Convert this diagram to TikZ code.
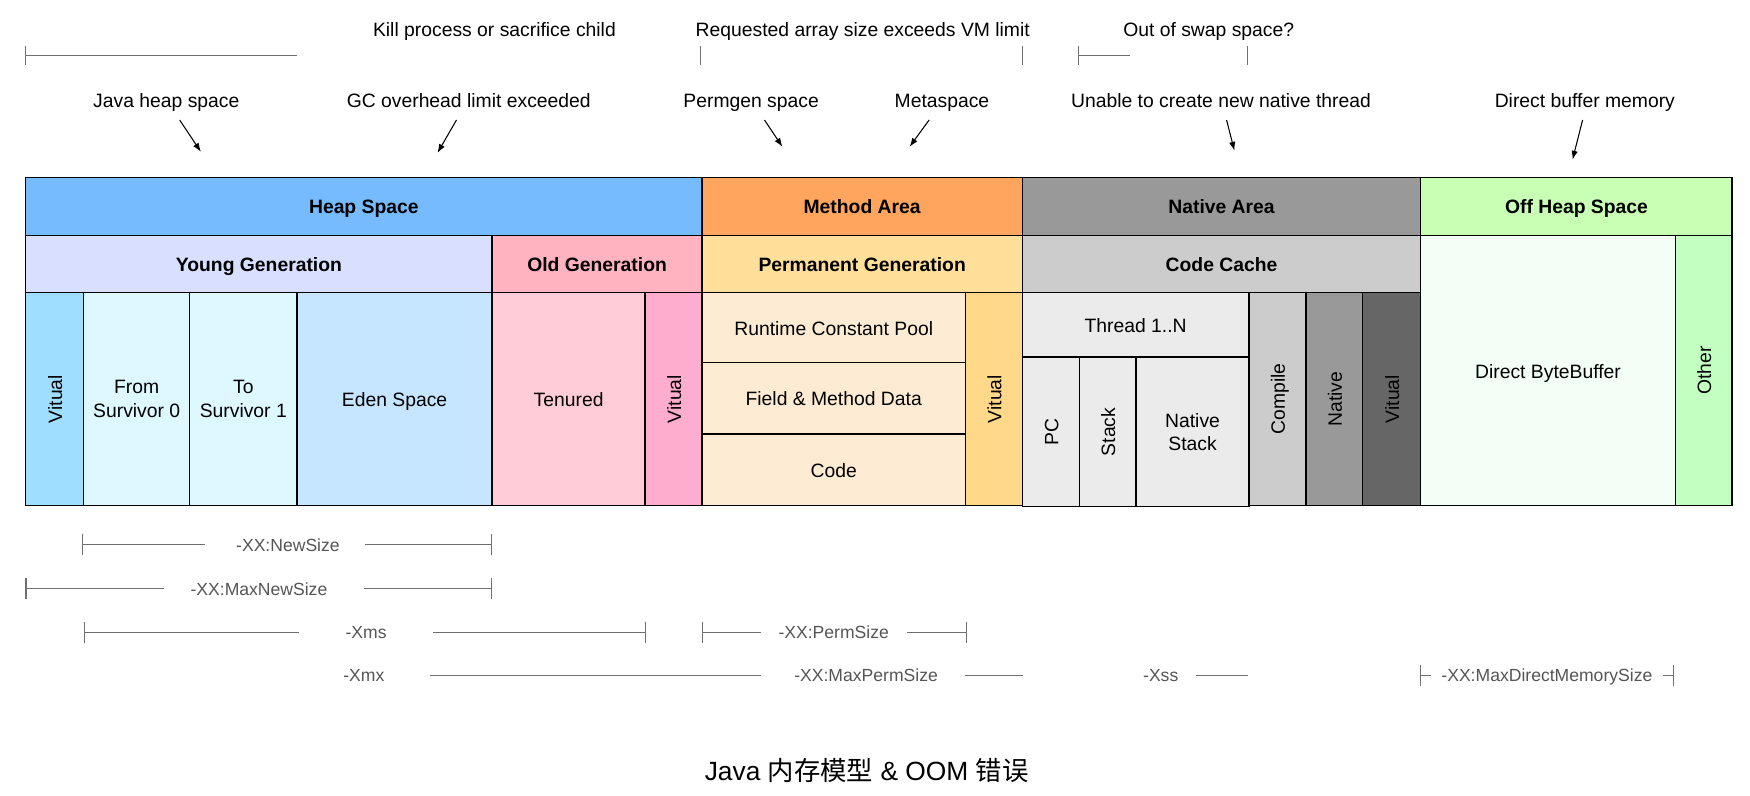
\documentclass[tikz,border=0pt]{standalone}
\usepackage{fontspec}
\setmainfont{Liberation Sans}
\newfontfamily\cjkfont{Noto Sans CJK SC}
\usetikzlibrary{arrows.meta}
\definecolor{cHeap}{HTML}{77BBFF}
\definecolor{cMethod}{HTML}{FFA55E}
\definecolor{cNativeA}{HTML}{999999}
\definecolor{cOff}{HTML}{C8FFB4}
\definecolor{cYoung}{HTML}{D8DFFF}
\definecolor{cOld}{HTML}{FFB3C1}
\definecolor{cPerm}{HTML}{FFDF99}
\definecolor{cCache}{HTML}{CCCCCC}
\definecolor{cVitA}{HTML}{A0DEFF}
\definecolor{cSurv}{HTML}{DDF8FF}
\definecolor{cEden}{HTML}{C6E5FF}
\definecolor{cTen}{HTML}{FFCCD8}
\definecolor{cVitB}{HTML}{FFADCE}
\definecolor{cPool}{HTML}{FDEBD3}
\definecolor{cVitC}{HTML}{FFD88A}
\definecolor{cThr}{HTML}{EBEBEB}
\definecolor{cComp}{HTML}{CCCCCC}
\definecolor{cNat}{HTML}{999999}
\definecolor{cVitD}{HTML}{666666}
\definecolor{cDBB}{HTML}{F3FFF6}
\definecolor{cOther}{HTML}{C2FFC0}
\definecolor{dimgray}{HTML}{707070}
\definecolor{dimtext}{HTML}{555555}
\newcommand{\mcell}[8]{%
  \filldraw[cellbox, fill=#6] (#2,#3) rectangle (#4,#5);
  \node[#7] (#1) at ({(#2+#4)/2},{(#3+#5)/2}) {#8};}
\newcommand{\tkA}[2]{\draw[dimline] (#1,#2-8.5) -- (#1,#2+8.5);}
\newcommand{\tkB}[2]{\draw[dimline] (#1,#2-9.5) -- (#1,#2+9.5);}
\begin{document}
\begin{tikzpicture}[x=0.223214mm, y=-0.223214mm,
  cellbox/.style={draw=black, line width=0.8pt},
  lblm/.style={font=\fontsize{11}{13.3}\selectfont, align=center, inner sep=0pt, text=black},
  lbl/.style={lblm, text height=1.06em, text depth=0.21em},
  hdr/.style={lbl, font=\fontsize{11}{13.3}\selectfont\bfseries},
  vlbl/.style={lbl, rotate=90},
  dimlbl/.style={font=\fontsize{10}{12}\selectfont, text=dimtext, inner sep=0pt, text height=1.06em, text depth=0.21em},
  dimline/.style={draw=dimgray, line width=0.6pt},
  arr/.style={draw=black, line width=0.6pt, -{Latex[length=5pt,width=3.6pt]}}]
\useasboundingbox (0,0) rectangle (1568,712.32);

% ---- row 3 cells ----
\mcell{vitA}{23}{262}{75}{453}{cVitA}{vlbl}{Vitual}
\mcell{from}{75}{262}{170}{453}{cSurv}{lblm}{From\\Survivor 0}
\mcell{to}{170}{262}{266}{453}{cSurv}{lblm}{To\\Survivor 1}
\mcell{eden}{266}{262}{441}{453}{cEden}{lbl}{Eden Space}
\mcell{ten}{441}{262}{578}{453}{cTen}{lbl}{Tenured}
\mcell{vitB}{578}{262}{629}{453}{cVitB}{vlbl}{Vitual}
\mcell{pool}{629}{262}{865}{325}{cPool}{lbl}{Runtime Constant Pool}
\mcell{field}{629}{325}{865}{389}{cPool}{lbl}{Field \& Method Data}
\mcell{code}{629}{389}{865}{453}{cPool}{lbl}{Code}
\mcell{vitC}{865}{262}{916}{453}{cVitC}{vlbl}{Vitual}
\mcell{thread}{916}{262}{1119}{320}{cThr}{lbl}{Thread 1..N}
\mcell{pc}{916}{320}{967}{454}{cThr}{vlbl}{PC}
\mcell{stack}{967}{320}{1018}{454}{cThr}{vlbl}{Stack}
\mcell{nstack}{1018}{320}{1119}{454}{cThr}{lblm}{Native\\Stack}
\mcell{compile}{1119}{262}{1170}{453}{cComp}{vlbl}{Compile}
\mcell{native}{1170}{262}{1221}{453}{cNat}{vlbl}{Native}
\mcell{vitD}{1221}{262}{1273}{453}{cVitD}{vlbl}{Vitual}
\mcell{dbb}{1273}{211}{1501}{453}{cDBB}{lbl}{Direct ByteBuffer}
\mcell{other}{1501}{211}{1552}{453}{cOther}{vlbl}{Other}

% ---- row 2 ----
\mcell{young}{23}{211}{441}{262}{cYoung}{hdr}{Young Generation}
\mcell{old}{441}{211}{629}{262}{cOld}{hdr}{Old Generation}
\mcell{perm}{629}{211}{916}{262}{cPerm}{hdr}{Permanent Generation}
\mcell{cache}{916}{211}{1273}{262}{cCache}{hdr}{Code Cache}

% ---- row 1 ----
\mcell{heap}{23}{159}{629}{211}{cHeap}{hdr}{Heap Space}
\mcell{method}{629}{159}{916}{211}{cMethod}{hdr}{Method Area}
\mcell{narea}{916}{159}{1273}{211}{cNativeA}{hdr}{Native Area}
\mcell{offheap}{1273}{159}{1552}{211}{cOff}{hdr}{Off Heap Space}

% ---- top labels ----
\node[lbl] (kill) at (443,26) {Kill process or sacrifice child};
\node[lbl] (reqarr) at (773,26) {Requested array size exceeds VM limit};
\node[lbl] (swap) at (1083,26) {Out of swap space?};
\node[lbl] (jheap) at (149,90) {Java heap space};
\node[lbl] (gcover) at (420,90) {GC overhead limit exceeded};
\node[lbl] (permgen) at (673,90) {Permgen space};
\node[lbl] (meta) at (844,90) {Metaspace};
\node[lbl] (unable) at (1094,90) {Unable to create new native thread};
\node[lbl] (direct) at (1420,90) {Direct buffer memory};

% top marker lines
\tkA{23}{49.5}
\draw[dimline] (23,49.5) -- (266,49.5);
\tkA{628}{50}
\tkA{916}{50}
\tkA{966}{50}
\draw[dimline] (966,50) -- (1012.5,50);
\tkA{1117.5}{50}

% ---- arrows ----
\coordinate (a1s) at (161,107.5); \coordinate (a1e) at (180,136);
\coordinate (a2s) at (409,107.5); \coordinate (a2e) at (392,137);
\coordinate (a3s) at (685,107.5); \coordinate (a3e) at (701,131.5);
\coordinate (a4s) at (832.5,107.5); \coordinate (a4e) at (815,131.5);
\coordinate (a5s) at (1099,107.5); \coordinate (a5e) at (1106,135);
\coordinate (a6s) at (1418,107.5); \coordinate (a6e) at (1409,143);
\draw[arr] (a1s) -- (a1e);
\draw[arr] (a2s) -- (a2e);
\draw[arr] (a3s) -- (a3e);
\draw[arr] (a4s) -- (a4e);
\draw[arr] (a5s) -- (a5e);
\draw[arr] (a6s) -- (a6e);

% ---- dimension rows ----
% NewSize
\tkB{74}{488}
\draw[dimline] (74,488) -- (183.7,488);
\node[dimlbl] (newsize) at (258,487) {-XX:NewSize};
\draw[dimline] (327,488) -- (440,488);
\tkB{440}{488}
% MaxNewSize
\tkB{23.3}{527.5}
\draw[dimline] (23.3,527.5) -- (147,527.5);
\node[dimlbl] (maxnewsize) at (232,526.5) {-XX:MaxNewSize};
\draw[dimline] (326.4,527.5) -- (440,527.5);
\tkB{440}{527.5}
% Xms
\tkB{76}{566.5}
\draw[dimline] (76,566.5) -- (267.5,566.5);
\node[dimlbl] (xms) at (328,565.5) {-Xms};
\draw[dimline] (388,566.5) -- (578.5,566.5);
\tkB{578.5}{566.5}
% PermSize
\tkB{629.6}{566.5}
\draw[dimline] (629.6,566.5) -- (681.8,566.5);
\node[dimlbl] (permsize) at (747,565.5) {-XX:PermSize};
\draw[dimline] (813,566.5) -- (866,566.5);
\tkB{866}{566.5}
% Xmx / MaxPermSize / Xss / MaxDirectMemorySize
\node[dimlbl] (xmx) at (326,604) {-Xmx};
\draw[dimline] (385,605) -- (629,605);
\draw[dimline] (629,605) -- (682,605);
\node[dimlbl] (maxpermsize) at (776,604) {-XX:MaxPermSize};
\draw[dimline] (864.6,605) -- (916.5,605);
\node[dimlbl] (xss) at (1040,604) {-Xss};
\draw[dimline] (1072,605) -- (1118,605);
\tkB{1273}{605}
\draw[dimline] (1273,605) -- (1282,605);
\node[dimlbl] (maxdirect) at (1386,604) {-XX:MaxDirectMemorySize};
\draw[dimline] (1490,605) -- (1499.3,605);
\tkB{1499.3}{605}

% ---- title ----
\node[font=\fontsize{15}{18}\selectfont, inner sep=0pt] (title) at (776.5,690) {Java {\cjkfont 内存模型} \& OOM {\cjkfont 错误}};
\end{tikzpicture}
\end{document}
